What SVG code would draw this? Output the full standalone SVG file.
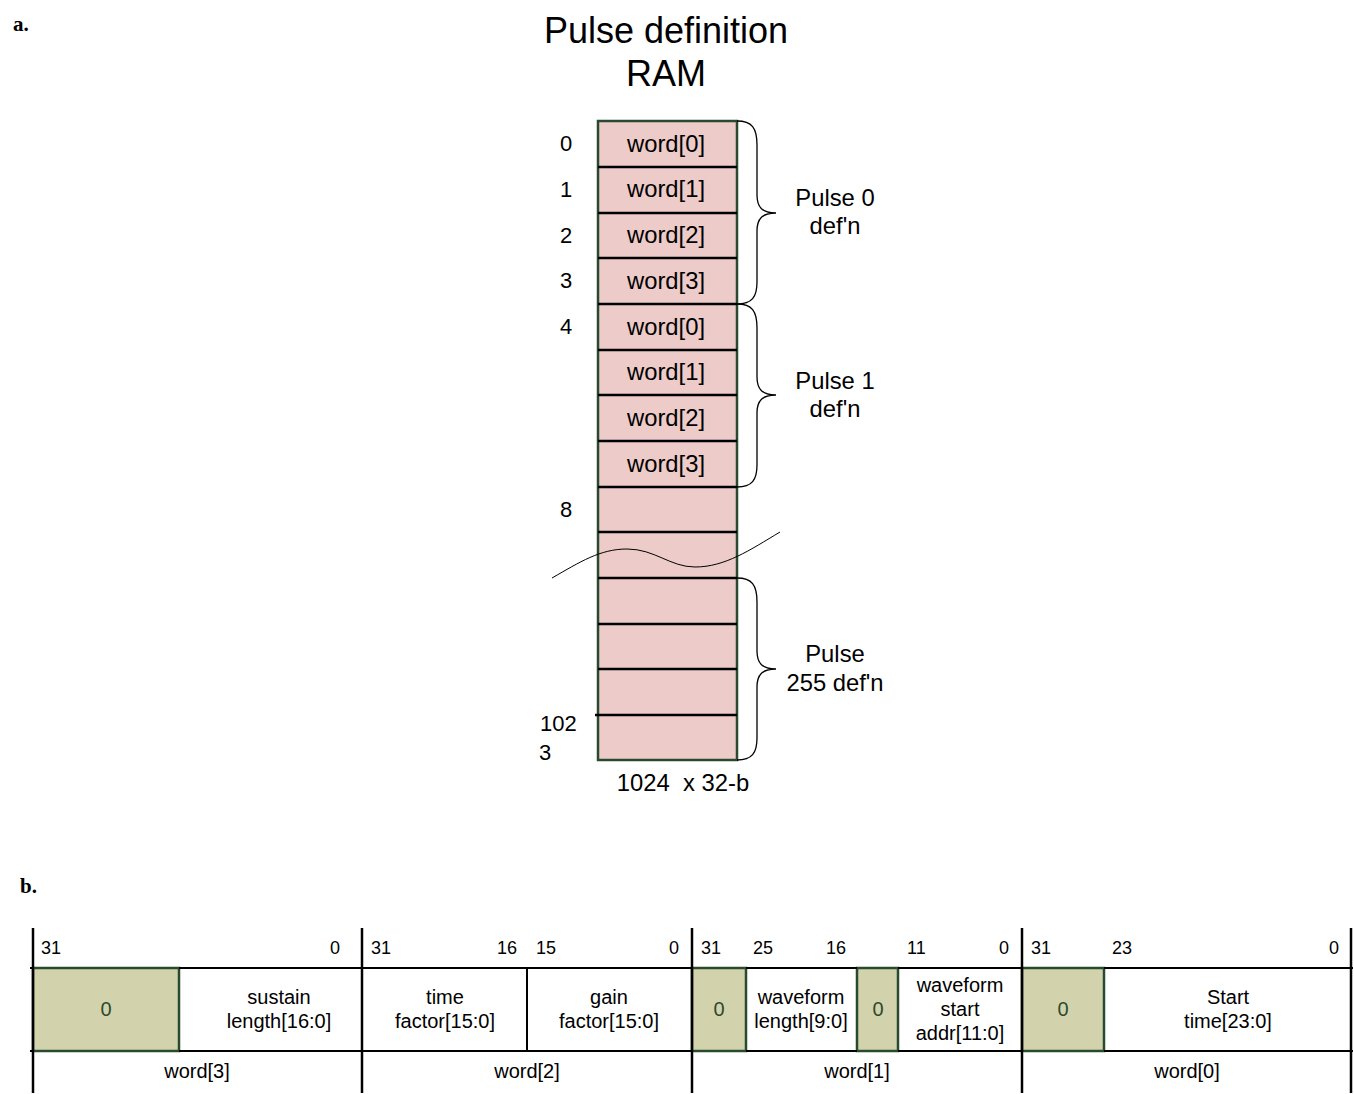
<svg xmlns="http://www.w3.org/2000/svg" width="1354" height="1094" viewBox="0 0 1354 1094">
<style>
text{font-family:"Liberation Sans",Arial,sans-serif;fill:#000}
.lbl{font-family:"Liberation Serif","Times New Roman",serif;font-weight:bold;font-size:21px}
.t{font-size:22px}
.w{font-size:23.8px}
.c{text-anchor:middle}
.s{font-size:18px}
.f{font-size:20px}
.g{fill:#2e4a2e}
.row{stroke:#000;stroke-width:2.5}
.brace{fill:none;stroke:#000;stroke-width:1.3}
.gf{fill:#d2d3ad;stroke:#2a4a30;stroke-width:2.5}
.tl{stroke:#000;stroke-width:2.5}
.th{stroke:#000;stroke-width:2}
</style>
<rect width="1354" height="1094" fill="#fff"/>
<text class="lbl" x="13" y="31">a.</text>
<text class="lbl" x="20" y="893">b.</text>
<text class="c" x="666" y="43" style="font-size:36px">Pulse definition</text>
<text class="c" x="666" y="86" style="font-size:36px">RAM</text>

<g id="ram">
<rect x="598" y="121" width="139" height="639" fill="#eccbc9" stroke="#2a4a30" stroke-width="2.5"/>
<g class="row">
<line x1="598" y1="167" x2="737" y2="167"/>
<line x1="598" y1="213" x2="737" y2="213"/>
<line x1="598" y1="258" x2="737" y2="258"/>
<line x1="598" y1="304" x2="737" y2="304"/>
<line x1="598" y1="350" x2="737" y2="350"/>
<line x1="598" y1="395" x2="737" y2="395"/>
<line x1="598" y1="441" x2="737" y2="441"/>
<line x1="598" y1="487" x2="737" y2="487"/>
<line x1="598" y1="532" x2="737" y2="532"/>
<line x1="598" y1="578" x2="737" y2="578"/>
<line x1="598" y1="624" x2="737" y2="624"/>
<line x1="598" y1="669" x2="737" y2="669"/>
<line x1="595" y1="715" x2="737" y2="715"/>
</g>
<text class="w c" x="666" y="152">word[0]</text>
<text class="w c" x="666" y="197">word[1]</text>
<text class="w c" x="666" y="243">word[2]</text>
<text class="w c" x="666" y="289">word[3]</text>
<text class="w c" x="666" y="335">word[0]</text>
<text class="w c" x="666" y="380">word[1]</text>
<text class="w c" x="666" y="426">word[2]</text>
<text class="w c" x="666" y="472">word[3]</text>
<text class="t c" x="566" y="151">0</text>
<text class="t c" x="566" y="197">1</text>
<text class="t c" x="566" y="243">2</text>
<text class="t c" x="566" y="288">3</text>
<text class="t c" x="566" y="334">4</text>
<text class="t c" x="566" y="517">8</text>
<text class="t" x="540" y="731">102</text>
<text class="t" x="539" y="760">3</text>
<text class="w c" x="683" y="791" xml:space="preserve">1024  x 32-b</text>
</g>

<g id="wave">
<path d="M552,578 C580,562 600,549 627,549 C655,549 670,567 695,567 C725,567 750,550 780,532" fill="none" stroke="#000" stroke-width="1"/>
</g>

<g id="braces">
<path class="brace" d="M737,121 C752,121 757,128 757,145 L757,195 C757,207 762,213 776,213 C762,213 757,219 757,231 L757,282 C757,297 752,304 737,304"/>
<path class="brace" d="M737,304 C752,304 757,311 757,328 L757,377 C757,389 762,395 776,395 C762,395 757,401 757,413 L757,465 C757,480 752,487 737,487"/>
<path class="brace" d="M737,578 C752,578 757,585 757,602 L757,651 C757,663 762,669 776,669 C762,669 757,675 757,687 L757,738 C757,753 752,760 737,760"/>
</g>
<text class="w c" x="835" y="206">Pulse 0</text>
<text class="w c" x="835" y="234">def'n</text>
<text class="w c" x="835" y="389">Pulse 1</text>
<text class="w c" x="835" y="417">def'n</text>
<text class="w c" x="835" y="662">Pulse</text>
<text class="w c" x="835" y="691">255 def'n</text>

<g id="table">
<rect class="gf" x="33" y="968" width="146" height="83"/>
<rect class="gf" x="692" y="968" width="54" height="83"/>
<rect class="gf" x="857" y="968" width="41" height="83"/>
<rect class="gf" x="1022" y="968" width="82" height="83"/>
<line class="th" x1="179" y1="968" x2="362" y2="968"/>
<line class="th" x1="362" y1="968" x2="692" y2="968"/>
<line class="th" x1="746" y1="968" x2="857" y2="968"/>
<line class="th" x1="898" y1="968" x2="1022" y2="968"/>
<line class="th" x1="1104" y1="968" x2="1353" y2="968"/>
<line class="th" x1="179" y1="1051" x2="692" y2="1051"/>
<line class="th" x1="746" y1="1051" x2="857" y2="1051"/>
<line class="th" x1="898" y1="1051" x2="1022" y2="1051"/>
<line class="th" x1="1104" y1="1051" x2="1353" y2="1051"/>
<line class="th" x1="30" y1="968" x2="33" y2="968"/>
<line class="th" x1="30" y1="1051" x2="33" y2="1051"/>
<line class="th" x1="527" y1="968" x2="527" y2="1051"/>
<g class="tl">
<line x1="33" y1="928" x2="33" y2="1093"/>
<line x1="362" y1="928" x2="362" y2="1093"/>
<line x1="692" y1="928" x2="692" y2="1093"/>
<line x1="1022" y1="928" x2="1022" y2="1093"/>
<line x1="1351" y1="928" x2="1351" y2="1093"/>
</g>
<text class="s" x="41" y="954">31</text>
<text class="s" x="340" y="954" text-anchor="end">0</text>
<text class="s" x="371" y="954">31</text>
<text class="s" x="517" y="954" text-anchor="end">16</text>
<text class="s" x="536" y="954">15</text>
<text class="s" x="679" y="954" text-anchor="end">0</text>
<text class="s" x="701" y="954">31</text>
<text class="s" x="753" y="954">25</text>
<text class="s" x="846" y="954" text-anchor="end">16</text>
<text class="s" x="907" y="954">11</text>
<text class="s" x="1009" y="954" text-anchor="end">0</text>
<text class="s" x="1031" y="954">31</text>
<text class="s" x="1112" y="954">23</text>
<text class="s" x="1339" y="954" text-anchor="end">0</text>

<text class="f c g" x="106" y="1016">0</text>
<text class="f c g" x="719" y="1016">0</text>
<text class="f c g" x="878" y="1016">0</text>
<text class="f c g" x="1063" y="1016">0</text>

<text class="f c" x="279" y="1004">sustain</text>
<text class="f c" x="279" y="1028">length[16:0]</text>
<text class="f c" x="445" y="1004">time</text>
<text class="f c" x="445" y="1028">factor[15:0]</text>
<text class="f c" x="609" y="1004">gain</text>
<text class="f c" x="609" y="1028">factor[15:0]</text>
<text class="f c" x="801" y="1004">waveform</text>
<text class="f c" x="801" y="1028">length[9:0]</text>
<text class="f c" x="960" y="992">waveform</text>
<text class="f c" x="960" y="1016">start</text>
<text class="f c" x="960" y="1040">addr[11:0]</text>
<text class="f c" x="1228" y="1004">Start</text>
<text class="f c" x="1228" y="1028">time[23:0]</text>

<text class="f c" x="197" y="1078">word[3]</text>
<text class="f c" x="527" y="1078">word[2]</text>
<text class="f c" x="857" y="1078">word[1]</text>
<text class="f c" x="1187" y="1078">word[0]</text>
</g>
</svg>
